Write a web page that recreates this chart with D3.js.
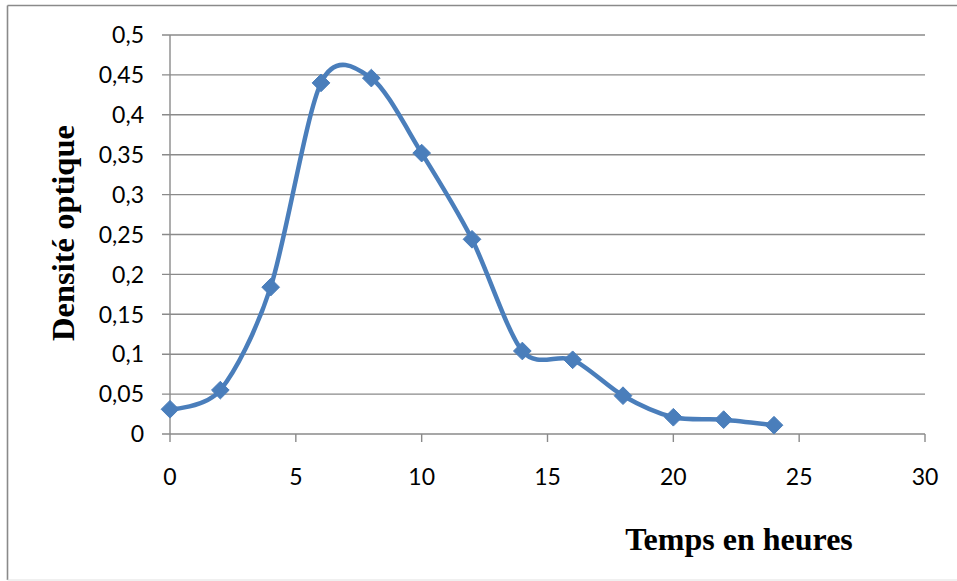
<!DOCTYPE html>
<html>
<head>
<meta charset="utf-8">
<script src="https://cdn.jsdelivr.net/npm/d3@7"></script>
<style>
  html, body { margin: 0; padding: 0; background: #fff; }
  svg { display: block; }
</style>
</head>
<body>
<svg id="chart" width="957" height="581"></svg>
<script>
// ---- data ----
const hours = [0, 2, 4, 6, 8, 10, 12, 14, 16, 18, 20, 22, 24];
const density = [0.031, 0.055, 0.184, 0.44, 0.446, 0.352, 0.244, 0.104, 0.093, 0.048, 0.021, 0.018, 0.011];
const xTicks = [0, 5, 10, 15, 20, 25, 30];
const yTicks = [0, 0.05, 0.1, 0.15, 0.2, 0.25, 0.3, 0.35, 0.4, 0.45, 0.5];
const xTitle = "Temps en heures";
const yTitle = "Densité optique";

(function () {
// ---- layout ----
const svg = d3.select("#chart");
const pLeft = 170, pRight = 925, pTop = 35, pBottom = 434;
const x = d3.scaleLinear().domain([0, 30]).range([pLeft, pRight]);
const y = d3.scaleLinear().domain([0, 0.5]).range([pBottom, pTop]);
const grey = "#8a8a8a";
const fmt = v => String(+v.toFixed(2)).replace(".", ",");

// outer frame (top and left visible, faint bottom)
svg.append("line").attr("x1", 7.5).attr("x2", 957).attr("y1", 5.5).attr("y2", 5.5)
  .attr("stroke", grey).attr("stroke-width", 1.6);
svg.append("line").attr("x1", 7.5).attr("x2", 7.5).attr("y1", 5.5).attr("y2", 580)
  .attr("stroke", grey).attr("stroke-width", 1.6);
svg.append("line").attr("x1", 7.5).attr("x2", 957).attr("y1", 580).attr("y2", 580)
  .attr("stroke", "#e2e2e2").attr("stroke-width", 1.2);

// gridlines + y ticks
svg.append("g").selectAll("line").data(yTicks).join("line")
  .attr("x1", pLeft - 8).attr("x2", pRight)
  .attr("y1", d => y(d)).attr("y2", d => y(d))
  .attr("stroke", grey).attr("stroke-width", 1.4);

// y axis line
svg.append("line")
  .attr("x1", pLeft).attr("x2", pLeft).attr("y1", pTop).attr("y2", pBottom)
  .attr("stroke", grey).attr("stroke-width", 1.4);

// x axis ticks
svg.append("g").selectAll("line").data(xTicks).join("line")
  .attr("x1", d => x(d)).attr("x2", d => x(d))
  .attr("y1", pBottom).attr("y2", pBottom + 8)
  .attr("stroke", grey).attr("stroke-width", 1.4);

// y tick labels
svg.append("g").selectAll("text").data(yTicks).join("text")
  .attr("x", 144).attr("y", d => y(d)).attr("dy", "0.36em")
  .attr("text-anchor", "end")
  .attr("font-family", "Lato, 'Open Sans', sans-serif").attr("font-size", 23)
  .attr("fill", "#000")
  .text(fmt);

// x tick labels
svg.append("g").selectAll("text").data(xTicks).join("text")
  .attr("x", d => x(d)).attr("y", 485)
  .attr("text-anchor", "middle")
  .attr("font-family", "Lato, 'Open Sans', sans-serif").attr("font-size", 23)
  .attr("fill", "#000")
  .text(d => d);

// line
const pts = hours.map((h, i) => [h, density[i]]);
svg.append("path")
  .datum(pts)
  .attr("fill", "none")
  .attr("stroke", "#4A7EBB")
  .attr("stroke-width", 4.5)
  .attr("stroke-linejoin", "round")
  .attr("d", d3.line().x(d => x(d[0])).y(d => y(d[1])).curve(d3.curveCardinal.tension(0.12)));

// diamond markers
const sym = d3.symbol().type(d3.symbolDiamond2).size(200);
svg.append("g").selectAll("path").data(pts).join("path")
  .attr("transform", d => `translate(${x(d[0])},${y(d[1])})`)
  .attr("d", sym)
  .attr("fill", "#4A7EBB")
  .attr("stroke", "#4A7EBB").attr("stroke-width", 1);

// axis titles
svg.append("text")
  .attr("x", 739).attr("y", 550)
  .attr("text-anchor", "middle")
  .attr("font-family", "'Liberation Serif', 'Times New Roman', serif")
  .attr("font-weight", "bold").attr("font-size", 32)
  .attr("fill", "#000")
  .text(xTitle);

svg.append("text")
  .attr("transform", "translate(74,233) rotate(-90)")
  .attr("text-anchor", "middle")
  .attr("font-family", "'Liberation Serif', 'Times New Roman', serif")
  .attr("font-weight", "bold").attr("font-size", 32.5)
  .attr("fill", "#000")
  .text(yTitle);
})();
</script>
</body>
</html>
